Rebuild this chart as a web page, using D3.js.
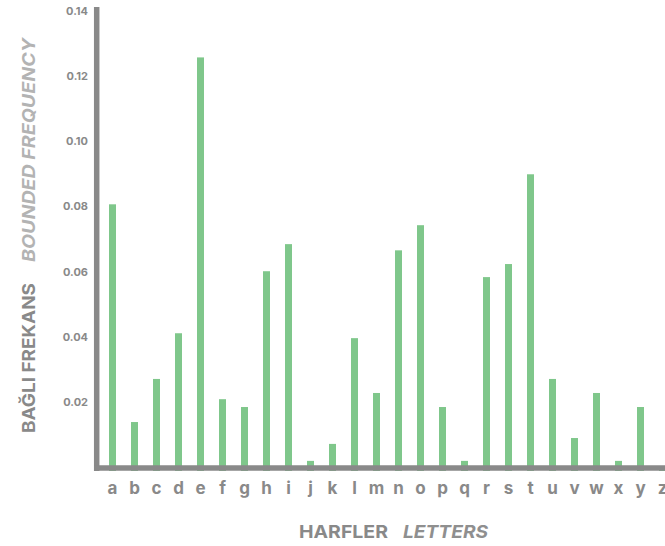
<!DOCTYPE html>
<html>
<head>
<meta charset="utf-8">
<script src="https://cdn.jsdelivr.net/npm/d3@7"></script>
<style>
  html, body { margin: 0; padding: 0; background: #fff; }
  svg { display: block; }
  text { font-family: Inter, "Open Sans", sans-serif; }
</style>
</head>
<body>
<svg id="chart" width="665" height="546"></svg>
<script>
const letters = ["a","b","c","d","e","f","g","h","i","j","k","l","m","n","o","p","q","r","s","t","u","v","w","x","y","z"];
const frequencies = [0.0817,0.0150,0.0282,0.0422,0.1267,0.0220,0.0196,0.0612,0.0695,0.0031,0.0083,0.0407,0.0239,0.0676,0.0753,0.0196,0.0031,0.0594,0.0634,0.0909,0.0282,0.0101,0.0239,0.0031,0.0196,0.0007];
const yTicks = [0.02,0.04,0.06,0.08,0.10,0.12,0.14];
const yTitleTr = "BAĞLI FREKANS";
const yTitleEn = "BOUNDED FREQUENCY";
const xTitleTr = "HARFLER";
const xTitleEn = "LETTERS";

const data = letters.map((l, i) => ({ letter: l, value: frequencies[i] }));

const svg = d3.select("#chart");
const axisColor = "#898989";
const barColor = "#7fc78b";

const x = d3.scaleBand().domain(letters).range([101.5, 673.5]).padding(0);
const y = d3.scaleLinear().domain([0, 0.14]).range([471, 14]);
const barW = 7;

// bars
svg.append("g").selectAll("rect").data(data).join("rect")
  .attr("x", d => x(d.letter) + (x.bandwidth() - barW) / 2)
  .attr("y", d => y(d.value))
  .attr("width", barW)
  .attr("height", d => y(0) - y(d.value))
  .attr("fill", barColor);

// y axis
const yAxis = svg.append("g").attr("transform", "translate(88,0)")
  .call(d3.axisLeft(y).tickValues(yTicks).tickSize(0).tickPadding(0).tickFormat(d3.format(".2f")));
yAxis.select(".domain").remove();
yAxis.selectAll("text")
  .attr("dy", "0em")
  .attr("fill", axisColor)
  .style("font-size", "11px")
  .style("font-weight", "700")
  .style("font-family", "Inter, sans-serif");

// x axis labels
const xAxis = svg.append("g").attr("transform", "translate(0,468)")
  .call(d3.axisBottom(x).tickSize(0).tickPadding(26));
xAxis.select(".domain").remove();
xAxis.selectAll("text")
  .attr("dy", "0em")
  .attr("fill", axisColor)
  .style("font-size", "17px")
  .style("font-weight", "700")
  .style("font-family", "Inter, sans-serif");

// axis lines
svg.append("line")
  .attr("x1", 96.7).attr("x2", 96.7)
  .attr("y1", 7).attr("y2", y(0))
  .attr("stroke", axisColor).attr("stroke-width", 5.5);
svg.append("line")
  .attr("x1", 94).attr("x2", 665)
  .attr("y1", 468).attr("y2", 468)
  .attr("stroke", axisColor).attr("stroke-width", 5.5);

// y title (two parts)
svg.append("text")
  .attr("transform", "translate(35,433) rotate(-90)")
  .attr("textLength", 150).attr("lengthAdjust", "spacingAndGlyphs")
  .attr("fill", axisColor)
  .style("font-size", "17.5px").style("font-weight", "700")
  .text(yTitleTr);
svg.append("text")
  .attr("transform", "translate(35,262) rotate(-90)")
  .attr("textLength", 224).attr("lengthAdjust", "spacingAndGlyphs")
  .attr("fill", "#b3b3b3")
  .style("font-size", "17.5px").style("font-weight", "700").style("font-style", "italic")
  .text(yTitleEn);

// x title (two parts)
svg.append("text")
  .attr("x", 299).attr("y", 538)
  .attr("textLength", 89).attr("lengthAdjust", "spacingAndGlyphs")
  .attr("fill", axisColor)
  .style("font-size", "18px").style("font-weight", "700")
  .text(xTitleTr);
svg.append("text")
  .attr("x", 403).attr("y", 538)
  .attr("textLength", 85).attr("lengthAdjust", "spacingAndGlyphs")
  .attr("fill", "#8f8f8f")
  .style("font-size", "18px").style("font-weight", "700").style("font-style", "italic")
  .text(xTitleEn);
</script>
</body>
</html>
